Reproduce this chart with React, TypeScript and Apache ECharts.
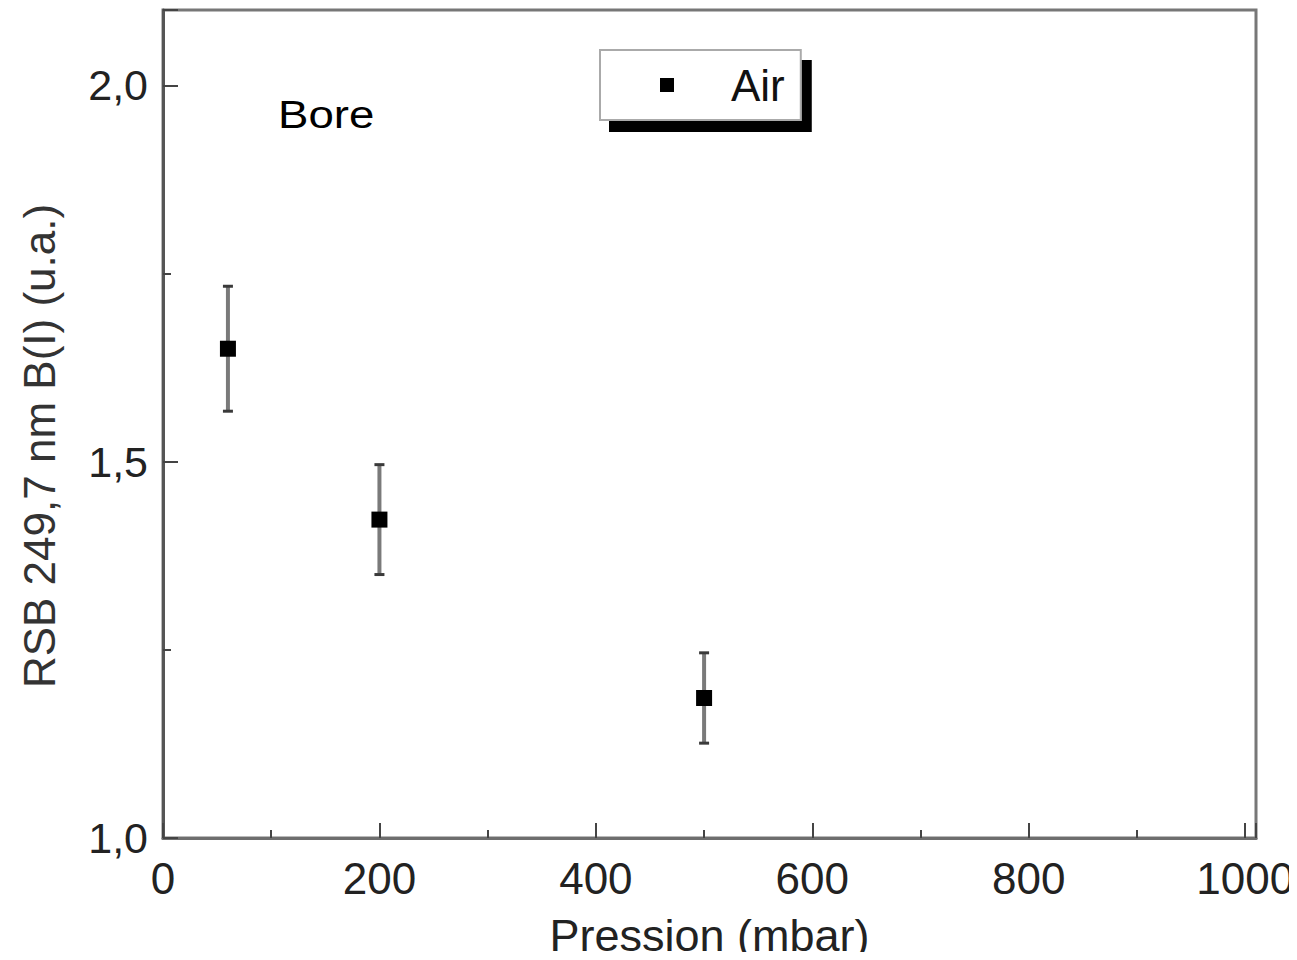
import React, { useEffect, useRef } from "react";
import * as echarts from "echarts";

const seriesName = "Air";
const pressure = [60, 200, 500];
const rsb = [1.65, 1.423, 1.186];
const errs = [0.083, 0.073, 0.06];
const xTicks = [0, 200, 400, 600, 800, 1000];
const yTicks = [1.0, 1.5, 2.0];

export default function App() {
  const ref = useRef<HTMLDivElement>(null);
  useEffect(() => {
    if (!ref.current) return;
    const chart = echarts.init(ref.current, undefined, { renderer: "svg" });
    const font = "'Liberation Sans', Arial, sans-serif";
    const points = pressure.map((p, i) => [p, rsb[i]]);
    const errData = pressure.map((p, i) => [p, rsb[i] - errs[i], rsb[i] + errs[i]]);
    chart.setOption({
      animation: false,
      backgroundColor: "#ffffff",
      grid: {
        left: 163,
        right: 41,
        top: 10,
        bottom: 122,
        outerBoundsMode: "none",
        containLabel: false,
        show: true,
        borderColor: "#777777",
        borderWidth: 3,
        backgroundColor: "transparent",
      },
      legend: {
        data: [seriesName],
        left: 600,
        top: 50,
        orient: "horizontal",
        icon: "rect",
        itemWidth: 14,
        itemHeight: 14,
        padding: [13, 16, 13, 60],
        backgroundColor: "#ffffff",
        borderColor: "#aaaaaa",
        borderWidth: 2,
        borderRadius: 0,
        shadowColor: "#000000",
        shadowBlur: 0,
        shadowOffsetX: 10,
        shadowOffsetY: 11,
        itemStyle: { opacity: 1, color: "#000000" },
        textStyle: {
          fontFamily: font,
          fontSize: 44,
          color: "#111111",
          padding: [0, 0, 0, 52],
        },
      },
      xAxis: {
        type: "value",
        min: 0,
        max: 1010,
        interval: 200,
        splitLine: { show: false },
        axisLine: { show: true, onZero: false, lineStyle: { color: "#6e6e6e", width: 3 } },
        axisTick: { show: true, inside: true, length: 15, lineStyle: { color: "#444", width: 2 } },
        minorTick: { show: true, splitNumber: 2, length: 8, lineStyle: { color: "#444", width: 2 } },
        axisLabel: {
          margin: 18,
          fontFamily: font,
          fontSize: 44,
          color: "#222222",
          formatter: (v: number) => (xTicks.includes(v) ? String(v) : ""),
        },
        name: "Pression (mbar)",
        nameLocation: "middle",
        nameGap: 75,
        nameTextStyle: { fontFamily: font, fontSize: 45, color: "#222222" },
      },
      yAxis: {
        type: "value",
        min: 1.0,
        max: 2.1,
        interval: 0.5,
        splitLine: { show: false },
        axisLine: { show: true, onZero: false, lineStyle: { color: "#555555", width: 3 } },
        axisTick: { show: true, inside: true, length: 15, lineStyle: { color: "#444", width: 2 } },
        minorTick: { show: true, splitNumber: 2, length: 8, lineStyle: { color: "#444", width: 2 } },
        axisLabel: {
          margin: 15,
          fontFamily: font,
          fontSize: 43,
          color: "#222222",
          formatter: (v: number) =>
            yTicks.some((t) => Math.abs(t - v) < 1e-9) ? v.toFixed(1).replace(".", ",") : "",
        },
      },
      graphic: [
        {
          type: "text",
          x: 39,
          y: 446,
          rotation: Math.PI / 2,
          style: {
            text: "RSB 249,7 nm B(I) (u.a.)",
            fontFamily: font,
            fontSize: 44,
            fill: "#333333",
            align: "center",
            verticalAlign: "middle",
          },
        },
        {
          type: "text",
          x: 278,
          y: 115,
          scaleX: 1.2,
          style: {
            text: "Bore",
            fontFamily: font,
            fontSize: 38,
            fill: "#000000",
            align: "left",
            verticalAlign: "middle",
          },
        },
      ],
      series: [
        {
          type: "custom",
          name: "errors",
          data: errData,
          z: 2,
          renderItem: (params: any, api: any) => {
            const x = api.value(0);
            const lo = api.coord([x, api.value(1)]);
            const hi = api.coord([x, api.value(2)]);
            const cw = 5;
            return {
              type: "group",
              children: [
                {
                  type: "line",
                  shape: { x1: lo[0], y1: lo[1], x2: hi[0], y2: hi[1] },
                  style: { stroke: "#7a7a7a", lineWidth: 4 },
                },
                {
                  type: "line",
                  shape: { x1: lo[0] - cw, y1: lo[1], x2: lo[0] + cw, y2: lo[1] },
                  style: { stroke: "#3a3a3a", lineWidth: 3 },
                },
                {
                  type: "line",
                  shape: { x1: hi[0] - cw, y1: hi[1], x2: hi[0] + cw, y2: hi[1] },
                  style: { stroke: "#3a3a3a", lineWidth: 3 },
                },
              ],
            };
          },
        },
        {
          type: "scatter",
          name: seriesName,
          data: points,
          symbol: "rect",
          symbolSize: 16,
          z: 3,
          itemStyle: { color: "#000000", opacity: 1 },
        },
      ],
    });
    return () => chart.dispose();
  }, []);
  return <div ref={ref} style={{ width: 1297, height: 960, margin: -8 }} />;
}
